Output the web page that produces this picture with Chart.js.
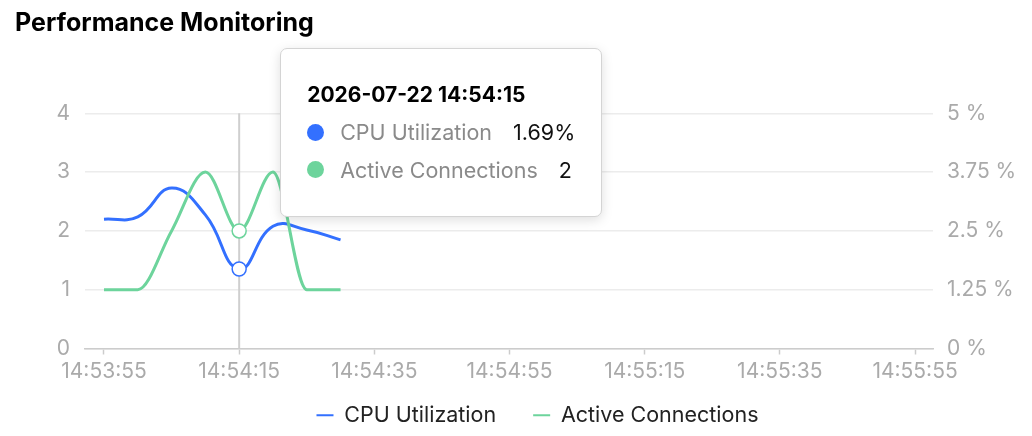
<!DOCTYPE html>
<html>
<head>
<meta charset="utf-8">
<script src="https://cdn.jsdelivr.net/npm/chart.js@4.4.1/dist/chart.umd.min.js"></script>
<style>
html,body{margin:0;padding:0;background:#fff;}
#wrap{position:relative;width:1032px;height:436px;overflow:hidden;}
#c{display:block;}
#tip{position:absolute;display:none;box-sizing:border-box;width:322px;padding:27px 26px;background:#fff;border:1px solid #d4d4d4;border-radius:7px;box-shadow:0 3px 12px rgba(0,0,0,0.13);font-family:Inter,"Liberation Sans",sans-serif;}
#tip .tt{font-weight:700;font-size:21px;line-height:37.5px;color:#000;white-space:nowrap;}
#tip .row{display:flex;align-items:center;height:37.5px;font-size:21.5px;white-space:nowrap;}
#tip .dot{width:17px;height:17px;border-radius:50%;margin-right:16px;flex:none;}
#tip .lab{color:#8a8a8a;}
#tip .val{color:#111;margin-left:21px;}
</style>
</head>
<body>
<div id="wrap"><canvas id="c" width="1032" height="436"></canvas><div id="tip"></div></div>
<script>
const chartTitle = 'Performance Monitoring';
const tooltipDate = '2026-07-22';
const timeLabels = ['14:53:55','14:54:00','14:54:05','14:54:10','14:54:15','14:54:20','14:54:25','14:54:30'];
const cpuUtilization = [2.75, 2.80, 3.41, 2.84, 1.69, 2.60, 2.52, 2.31];
const activeConnections = [1, 1, 2, 3, 2, 3, 1, 1];
const xTickLabels = ['14:53:55','14:54:15','14:54:35','14:54:55','14:55:15','14:55:35','14:55:55'];
const leftTickValues = [0, 1, 2, 3, 4];
const rightTickValues = [0, 1.25, 2.5, 3.75, 5];
const rightTickLabels = ['0 %', '1.25 %', '2.5 %', '3.75 %', '5 %'];
const seriesNames = ['CPU Utilization', 'Active Connections'];
const activeIndex = 4;

const BLUE = '#3370ff';
const GREEN = '#6dd49c';
const FONT = 'Inter, "Liberation Sans", sans-serif';

function toSec(s) { const p = s.split(':').map(Number); return p[0] * 3600 + p[1] * 60 + p[2]; }
const origin = toSec(xTickLabels[0]);
const xOf = s => toSec(s) - origin;

const crosshair = {
  id: 'crosshair',
  afterLayout(chart) {
    // give the bottom axis labels room to draw (they are clipped to the axis box)
    chart.scales.x.bottom = chart.height;
  },
  beforeDatasetsDraw(chart) {
    const act = chart.getActiveElements();
    if (!act.length) return;
    const x = act[0].element.x;
    const { top, bottom } = chart.chartArea;
    const ctx = chart.ctx;
    ctx.save();
    ctx.strokeStyle = '#cfcfcf';
    ctx.lineWidth = 2;
    ctx.beginPath();
    ctx.moveTo(x, top);
    ctx.lineTo(x, bottom);
    ctx.stroke();
    ctx.restore();
  }
};

function externalTooltip(context) {
  const { chart, tooltip } = context;
  if (!tooltip.dataPoints || !tooltip.dataPoints.length) return;
  const el = document.getElementById('tip');
  const pts = tooltip.dataPoints.slice().sort((a, b) => a.datasetIndex - b.datasetIndex);
  const idx = pts[0].dataIndex;
  let html = '<div class="tt">' + tooltipDate + ' ' + timeLabels[idx] + '</div>';
  pts.forEach(p => {
    const ds = p.dataset;
    const val = ds.yAxisID === 'yRight' ? p.raw.y + '%' : String(p.raw.y);
    html += '<div class="row"><span class="dot" style="background:' + ds.borderColor + '"></span><span class="lab">' + ds.label + '</span><span class="val">' + val + '</span></div>';
  });
  el.innerHTML = html;
  el.style.left = (chart.canvas.offsetLeft + tooltip.caretX + 41) + 'px';
  el.style.top = '48px';
  el.style.display = 'block';
}

const tickFont = { family: FONT, size: 21 };
const tickColor = '#aaaaaa';

const chart = new Chart(document.getElementById('c'), {
  type: 'line',
  data: {
    datasets: [
      {
        label: seriesNames[0],
        data: timeLabels.map((t, i) => ({ x: xOf(t), y: cpuUtilization[i] })),
        yAxisID: 'yRight',
        order: 1,
        borderColor: BLUE,
        backgroundColor: BLUE,
        borderWidth: 3,
        pointRadius: 0,
        pointHoverRadius: 7,
        pointHoverBorderWidth: 1.5,
        pointHoverBackgroundColor: '#ffffff',
        pointHoverBorderColor: BLUE,
        tension: 0.45,
        fill: false
      },
      {
        label: seriesNames[1],
        data: timeLabels.map((t, i) => ({ x: xOf(t), y: activeConnections[i] })),
        yAxisID: 'yLeft',
        order: 0,
        borderColor: GREEN,
        backgroundColor: GREEN,
        borderWidth: 3,
        pointRadius: 0,
        pointHoverRadius: 7,
        pointHoverBorderWidth: 1.5,
        pointHoverBackgroundColor: '#ffffff',
        pointHoverBorderColor: GREEN,
        cubicInterpolationMode: 'monotone',
        fill: false
      }
    ]
  },
  options: {
    responsive: false,
    animation: false,
    events: [],
    devicePixelRatio: 1,
    layout: { padding: { left: 15, right: -28, top: 0, bottom: 0 } },
    scales: {
      x: {
        type: 'linear',
        min: -2.81,
        max: 122.66,
        afterBuildTicks: s => { s.ticks = xTickLabels.map(l => ({ value: xOf(l) })); },
        afterFit: s => { s.height = 19; },
        grid: { drawOnChartArea: false, drawTicks: true, tickLength: 6, tickColor: '#cccccc', tickWidth: 1.5 },
        border: { display: true, color: '#cccccc', width: 1.5 },
        ticks: {
          autoSkip: false, maxRotation: 0, padding: 5,
          font: tickFont, color: tickColor,
          callback: (v, i) => xTickLabels[i]
        }
      },
      yLeft: {
        type: 'linear',
        position: 'left',
        min: 0, max: 4,
        afterBuildTicks: s => { s.ticks = leftTickValues.map(v => ({ value: v })); },
        afterFit: s => { s.width = 70; },
        grid: { color: '#ececec', lineWidth: 1.5, drawTicks: false },
        border: { display: false },
        ticks: { padding: 15, font: tickFont, color: tickColor, callback: v => String(v) }
      },
      yRight: {
        type: 'linear',
        position: 'right',
        min: 0, max: 5,
        afterBuildTicks: s => { s.ticks = rightTickValues.map(v => ({ value: v })); },
        afterFit: s => { s.width = 127; },
        grid: { drawOnChartArea: false, drawTicks: false },
        border: { display: false },
        ticks: { padding: 14, font: tickFont, color: tickColor, callback: (v, i) => rightTickLabels[i] }
      }
    },
    plugins: {
      title: {
        display: true,
        text: chartTitle,
        align: 'start',
        color: '#000000',
        font: { family: FONT, size: 25, weight: 'bold' },
        padding: { top: 8.5, bottom: 74.8 }
      },
      legend: {
        display: true,
        position: 'bottom',
        labels: {
          usePointStyle: true,
          pointStyle: 'line',
          pointStyleWidth: 17,
          padding: 37,
          color: '#222222',
          font: { family: FONT, size: 21.5 },
          generateLabels: chart => {
            const items = Chart.defaults.plugins.legend.labels.generateLabels(chart);
            items.forEach(it => { it.lineWidth = 2; });
            items.sort((a, b) => a.datasetIndex - b.datasetIndex);
            return items;
          }
        }
      },
      tooltip: {
        enabled: false,
        position: 'average',
        external: externalTooltip
      }
    }
  },
  plugins: [crosshair]
});

const active = [{ datasetIndex: 0, index: activeIndex }, { datasetIndex: 1, index: activeIndex }];
chart.setActiveElements(active);
const el0 = chart.getDatasetMeta(0).data[activeIndex];
chart.tooltip.setActiveElements(active, { x: el0.x, y: el0.y });
chart.update();
</script>
</body>
</html>
